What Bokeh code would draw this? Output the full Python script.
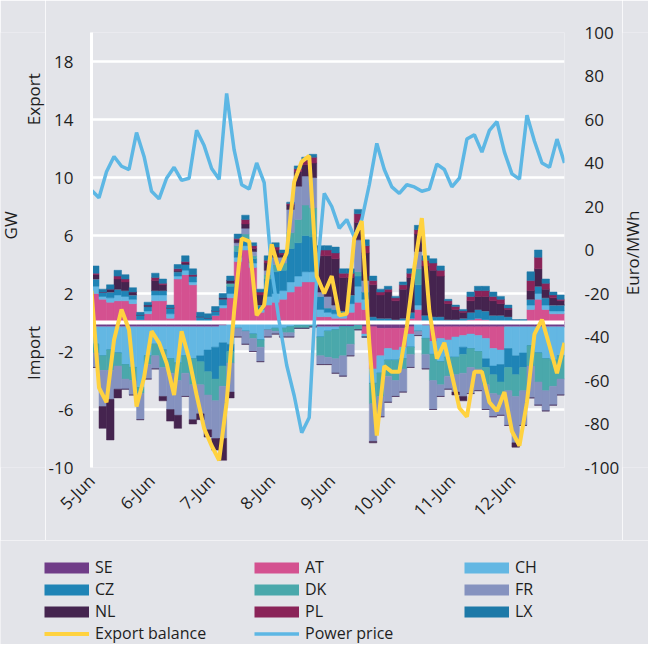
from math import pi
from bokeh.plotting import figure
from bokeh.layouts import column, row
from bokeh.models import (ColumnDataSource, Range1d, LinearAxis, FixedTicker,
                          Legend, LegendItem, Label)
from bokeh.embed import file_html
from bokeh.resources import INLINE

# ---------------- data ----------------
countries = ["SE", "AT", "CH", "CZ", "DK", "FR", "NL", "PL", "LX"]
colors = ["#703c88", "#d45190", "#63b7e3", "#1f84b6", "#4aa8ab",
          "#8592bf", "#45244f", "#8a2358", "#1d79a8"]

day_ticks = [0, 24, 48, 72, 96, 120, 144, 168]
day_labels = ["5-Jun", "6-Jun", "7-Jun", "8-Jun", "9-Jun", "10-Jun", "11-Jun", "12-Jun"]
left_ticks = [-10, -6, -2, 2, 6, 10, 14, 18]
right_ticks = [-100, -80, -60, -40, -20, 0, 20, 40, 60, 80, 100]

line_hours = list(range(0, 190, 3))              # 64 points, 3-hourly
bar_hours = [h + 1.5 for h in range(0, 189, 3)]  # 63 bars, 3 hours wide

# exports (GW, positive)
AT_exp = [2.0,1.6,1.4,1.5,1.5,1.3,0.2,0.6,1.5,1.5, 0.3,3.0,3.3,2.6,0,0,0.5,1.0,1.7,4.2,
          5.0,3.8,0.7,1.2,1.4,1.6,2.1,2.5,2.8,2.8, 0.4,0.4,0.3,0.3,0.7,1.4,0.9,0,0,0,
          0,0,0.3,0.9,0,0,0,0,0,0, 0.2,0.3,0.2,0,0,0,0,0,0.9,1.6, 0.9,0.6,0.6]
CH_exp = [0.5,0.2,0.3,0.4,0.3,0.3,0,0.2,0.4,0.4, 0.3,0.2,0.3,0.2,0,0,0,0.2,0.3,0.3,
          0.3,0.3,0.2,0.6,0.6,0.6,0.7,0.7,0.7,0.7, 0.5,0.3,0.3,0.2,0.6,1.1,0.7,0,0,0,
          0,0,0,0.3,0,0,0,0,0,0, 0,0,0,0,0,0,0,0,0.3,0.4, 0.3,0.2,0.2]
CZ_exp = [0.5,0.3,0.4,0.4,0.4,0.3,0.3,0.3,0.3,0.3, 0.4,0.3,0.4,0.4,0.4,0.3,0.3,0.4,0.5,0.4,
          0.4,0.3,0.3,1.2,1.5,1.4,2.3,2.3,2.5,2.4, 0.9,0.3,0.3,0.3,0.6,0.7,0.5,0.4,0.3,0.3,
          0.2,0.3,0.4,1.4,0.5,0.4,0.4,0.2,0.2,0.3, 0.5,0.6,0.6,0.5,0.5,0.4,0.1,0.1,0.4,0.5, 0.5,0.4,0.4]
DK_exp = [0,0,0,0,0,0,0,0,0,0, 0,0,0,0,0,0,0,0,0.2,0.4,
          0.4,0.2,0,0.3,0.5,0.5,1.1,1.6,2.1,2.0, 0,0,0,0,0,0.3,0,0,0,0,
          0,0,0,1.1,0,0,0,0,0,0, 0,0,0,0,0,0,0,0,0,0, 0,0,0]
FR_exp = [0,0,0,0,0,0,0,0,0,0, 0,0,0,0,0,0,0,0,0,0.2,
          0.4,0.3,0,0.3,0.5,0.4,1.6,2.3,2.0,2.1, 0.3,0.8,0.3,0,0,2.2,0.8,0,0,0,
          0,0,0,1.2,0,0,0,0,0,0, 0,0,0,0,0,0,0,0,0,0, 0,0,0]
NL_exp = [0.3,0,0.2,0.7,0.6,0.2,0,0.1,0.7,0.4, 0,0.1,0.1,0,0,0,0,0.1,0.2,0.2,
          0.3,0.2,0.7,0.5,0.5,0.2,0.3,1.0,0.8,1.0, 2.5,2.8,3.2,2.3,1.2,1.2,1.9,2.2,1.6,1.8,
          1.3,2.0,2.4,1.2,3.4,3.2,2.8,1.1,0.7,0.4, 0.8,0.9,1.0,1.0,0.8,0.5,0,0,0.6,1.2, 0.6,0.5,0.3]
PL_exp = [0.1,0,0,0.2,0.2,0,0,0,0.2,0.1, 0,0.1,0.1,0.1,0,0,0,0,0,0.1,
          0.3,0.2,0.2,0.2,0.2,0.1,0.1,0.2,0.3,0.4, 0.4,0.4,0.4,0.3,0.3,0.6,0.5,0.3,0.2,0.2,
          0.2,0.3,0.3,0.3,0.4,0.5,0.4,0.2,0.2,0.1, 0.3,0.4,0.4,0.3,0.3,0.1,0,0,0.7,0.8, 0.4,0.2,0.1]
LX_exp = [0.5,0.2,0.3,0.4,0.3,0.3,0.2,0.2,0.3,0.3, 0.2,0.3,0.4,0.4,0.3,0.3,0.3,0.3,0.3,0.3,
          0.3,0.2,0.2,0.3,0.3,0.2,0.1,0.2,0.2,0.2, 0.3,0.3,0.4,0.3,0.3,0.3,0.4,0.3,0.2,0.2,
          0.1,0.2,0.3,0.3,0.3,0.3,0.3,0.1,0.1,0.1, 0.3,0.3,0.3,0.3,0.2,0.2,0.1,0.1,0.6,0.5, 0.3,0.2,0.3]

# imports (GW, negative)
SE_imp = [-0.3,-0.3,-0.3,-0.3,-0.3,-0.3,-0.3,-0.3,-0.3,-0.3, -0.3,-0.3,-0.3,-0.3,-0.3,-0.3,-0.3,-0.2,0,0,
          0,0,0,0,0,0,0,0,0,0, -0.3,-0.3,-0.3,-0.3,-0.3,-0.2,-0.3,-0.3,-0.4,-0.4,
          -0.4,-0.4,-0.3,0,-0.2,-0.3,-0.3,-0.3,-0.3,-0.3, -0.3,-0.3,-0.3,-0.3,-0.3,-0.3,-0.3,-0.3,-0.3,-0.3, -0.3,-0.3,-0.3]
AT_imp = [0,0,0,0,0,0,0,0,0,0, 0,0,0,0,0,0,0,0,0,0,
          0,0,0,0,0,0,0,0,0,0, 0,0,0,0,0,0,-0.5,-2.9,-1.9,-1.4,
          -1.5,-1.3,-0.5,0,0,-1.0,-0.8,-0.9,-0.7,-0.6, -0.5,-0.6,-0.8,-1.5,-1.6,0,0,0,0,0, 0,0,0]
CH_imp = [-1.2,-2.0,-1.6,-1.8,-2.6,-2.8,-4.2,-2.0,-1.2,-1.6, -2.2,-2.5,-2.0,-2.2,-2.0,-1.6,-1.4,-1.2,-1.5,-0.4,
          -0.6,-0.8,-1.2,-0.5,-0.4,-0.4,-0.3,-0.2,-0.2,-0.2, -0.7,-0.3,-0.2,0,0,0,-0.2,-1.0,-1.2,-0.8,
          -0.7,-0.8,-0.9,-0.6,-0.9,-0.9,-1.6,-1.2,-1.4,-0.8, -1.0,-1.1,-1.4,-1.2,-1.0,-1.5,-2.0,-1.8,-1.3,-1.8, -2.2,-2.3,-2.0]
CZ_imp = [0,0,0,0,0,0,0,0,0,0, 0,0,0,0,-0.4,-1.5,-2.2,-1.6,-0.5,0,
          0,0,0,0,0,0,0,0,0,0, 0,0,0,0,0,0,0,0,0,0,
          0,0,0,0,0,0,0,0,0,-0.5, 0,0,-0.6,-0.6,-1.2,-1.3,-1.3,-1.0,0,0, 0,0,0]
DK_imp = [-0.6,-1.0,-1.4,-0.9,-1.0,-0.9,-0.4,-0.6,-0.8,-1.2, -1.0,-1.2,-1.2,-1.8,-1.6,-1.6,-1.5,-1.4,-0.8,0,
          0,-0.3,-0.5,0,-0.2,-0.3,-0.4,-0.2,-0.2,-0.1, -1.3,-1.8,-2.0,-2.0,-1.2,-0.3,0,-1.4,-1.6,-1.1,
          -1.4,-0.7,-0.5,0,-1.1,-1.8,-1.6,-1.3,-1.2,-1.3, -1.3,-1.2,-1.2,-1.3,-0.9,-1.6,-1.5,-1.6,-1.4,-2.0, -2.2,-1.8,-1.6]
FR_imp = [-1.0,-2.5,-2.0,-1.6,-0.7,-1.0,-1.8,-1.0,-0.9,-2.0, -2.5,-2.4,-1.6,-2.4,-2.0,-2.4,-2.6,-3.6,-2.0,-0.6,
          -0.9,-0.9,-1.0,-0.5,-0.2,-0.3,-0.3,0,0,0, -0.6,-0.5,-1.0,-1.4,-0.8,0,0,-2.6,-1.4,-1.8,
          -1.1,-1.6,-0.9,-0.3,-1.0,-2.0,-0.8,-0.9,-1.2,-1.6, -1.8,-1.5,-1.7,-1.6,-1.4,-2.4,-3.2,-2.4,-2.2,-1.6, -1.4,-1.3,-1.1]
NL_imp = [0,-1.5,-2.8,-0.6,0,0,0,0,0,-0.3, -0.8,-0.9,0,-0.3,-0.4,-0.5,-0.8,-1.5,-0.4,0,
          0,0,0,0,0,0,0,0,0,0, 0,0,0,0,0,0,0,-0.1,0,0,
          0,0,0,0,0,0,0,0,-0.2,-0.3, 0,0,0,0,0,0,-0.3,0,0,0, 0,0,0]

export_balance = [2.2,-4.5,-5.5,-1.2,0.9,-0.5,-5.8,-3.8,-0.6,-1.4, -2.8,-5.0,-0.6,-2.5,-5.0,-7.3,-8.5,-9.5,-5.5,0.8,
                  5.8,5.6,0.5,1.2,5.4,3.6,4.8,9.7,11.1,11.5, 3.2,2.0,3.2,0.5,0.6,5.8,7.0,-1.4,-7.8,-3.0,
                  -3.4,-3.4,-0.3,3.8,7.2,0.8,-2.5,-1.4,-3.6,-5.9, -6.5,-3.4,-3.4,-5.5,-6.1,-4.8,-7.5,-8.5,-5.5,-0.8,
                  0.2,-1.6,-3.5,-1.4]
power_price = [27.5,24,36,43,38.5,37,54,43,27,23.5, 33,38,32,33,55,48,37.5,32.5,72,46,
               30,28,40,31,-9,-33,-53,-67,-84,-77, -12,26,20,10,14,6,14,30,49,37,
               29,26,30,29,27,28,39.5,37,29,33, 51,53,45,55,59,45,35,32.6,62,50,
               40,38,51,40]

exports = {"AT": AT_exp, "CH": CH_exp, "CZ": CZ_exp, "DK": DK_exp, "FR": FR_exp,
           "NL": NL_exp, "PL": PL_exp, "LX": LX_exp}
imports = {"SE": SE_imp, "AT": AT_imp, "CH": CH_imp, "CZ": CZ_imp, "DK": DK_imp,
           "FR": FR_imp, "NL": NL_imp}

for k, v in list(exports.items()) + list(imports.items()):
    assert len(v) == len(bar_hours), (k, len(v))
assert len(export_balance) == len(line_hours) == len(power_price)

# ---------------- style ----------------
BG = "#e3e4e9"
TXT = "#1e1e1e"
FONT = "Open Sans"
YELLOW = "#ffd23f"
PRICE = "#5db7e4"
cmap = dict(zip(countries, colors))

H_MAIN = 540
TOP, BOTTOM = 32, 73
CAP_L, CAP_R = 45, 26
MAIN_W = 648 - CAP_L - CAP_R


def plain_axis(ax, size="17px"):
    ax.axis_line_color = None
    ax.major_tick_line_color = None
    ax.minor_tick_line_color = None
    ax.major_tick_out = 0
    ax.major_tick_in = 0
    ax.minor_tick_out = 0
    ax.minor_tick_in = 0
    ax.major_label_text_font = FONT
    ax.major_label_text_font_size = size
    ax.major_label_text_color = TXT


def blank_fig(w, h, **kw):
    f = figure(width=w, height=h, output_backend="svg", toolbar_location=None,
               x_axis_location=None, y_axis_location=None,
               background_fill_color=BG, border_fill_color=BG, outline_line_color=None,
               **kw)
    f.xgrid.visible = False
    f.ygrid.visible = False
    f.frame_align = False
    return f


# ---------------- main chart ----------------
p = figure(width=MAIN_W, height=H_MAIN, x_range=Range1d(0, 189), y_range=Range1d(-10, 20),
           output_backend="svg", toolbar_location=None,
           min_border_left=43, min_border_right=58, min_border_top=TOP, min_border_bottom=BOTTOM,
           background_fill_color=BG, border_fill_color=BG, outline_line_color=None)
p.frame_align = False
p.extra_y_ranges = {"price": Range1d(-100, 100)}

p.xgrid.visible = False
p.ygrid.ticker = FixedTicker(ticks=left_ticks)
p.ygrid.grid_line_color = "white"
p.ygrid.grid_line_width = 2.5

ya = p.yaxis[0]
plain_axis(ya)
ya.ticker = FixedTicker(ticks=left_ticks)
ya.major_label_overrides = {t: str(t) for t in left_ticks}
ya.axis_line_color = "white"
ya.axis_line_width = 3
ya.major_label_standoff = 18

ra = LinearAxis(y_range_name="price", ticker=FixedTicker(ticks=right_ticks))
plain_axis(ra)
ra.major_label_overrides = {t: str(t) for t in right_ticks}
ra.major_label_standoff = 20
p.add_layout(ra, "right")

xa = p.xaxis[0]
plain_axis(xa)
xa.ticker = FixedTicker(ticks=day_ticks)
xa.major_label_overrides = {t: l for t, l in zip(day_ticks, day_labels)}
xa.major_label_orientation = pi / 4
xa.major_label_standoff = 10

data = {"x": bar_hours}
for c, v in exports.items():
    data[c + "_exp"] = v
for c, v in imports.items():
    data[c + "_imp"] = v
src = ColumnDataSource(data)

exp_keys = [c + "_exp" for c in exports]
exp_cols = [cmap[c] for c in exports]
p.vbar_stack(exp_keys, x="x", width=3, source=src, fill_color=exp_cols,
             line_color=exp_cols, line_width=0.5)
imp_keys = [c + "_imp" for c in imports]
imp_cols = [cmap[c] for c in imports]
p.vbar_stack(imp_keys, x="x", width=3, source=src, fill_color=imp_cols,
             line_color=imp_cols, line_width=0.5)

p.hspan(y=[0], line_color="white", line_width=4)

p.line(line_hours, power_price, y_range_name="price", line_color=PRICE, line_width=3.5)
p.line(line_hours, export_balance, line_color=YELLOW, line_width=4)

# ---------------- side captions (share the GW scale) ----------------
capL = blank_fig(CAP_L, H_MAIN, x_range=Range1d(0, CAP_L), y_range=p.y_range,
                 min_border_left=0, min_border_right=0, min_border_top=TOP, min_border_bottom=BOTTOM)
for txt, x, y in [("GW", 10, 6.7), ("Export", 33, 15.4), ("Import", 33, -2.1)]:
    capL.add_layout(Label(x=x, y=y, text=txt, angle=pi / 2, text_align="center",
                          text_baseline="middle", text_font=FONT, text_font_size="17px",
                          text_color=TXT))

capR = blank_fig(CAP_R, H_MAIN, x_range=Range1d(0, CAP_R), y_range=p.y_range,
                 min_border_left=0, min_border_right=0, min_border_top=TOP, min_border_bottom=BOTTOM)
capR.add_layout(Label(x=10, y=4.8, text="Euro/MWh", angle=pi / 2, text_align="center",
                      text_baseline="middle", text_font=FONT, text_font_size="17px",
                      text_color=TXT))

# ---------------- legend strip ----------------
lf = blank_fig(648, 104, x_range=Range1d(0, 1), y_range=Range1d(0, 1), min_border=0)
nan = float("nan")
items = []
for c, col in zip(countries, colors):
    r = lf.line(x=[nan], y=[nan], line_color=col, line_width=11)
    items.append(LegendItem(label=c, renderers=[r]))
rb = lf.line(x=[nan], y=[nan], line_color=YELLOW, line_width=4)
items.append(LegendItem(label="Export balance", renderers=[rb]))
rp = lf.line(x=[nan], y=[nan], line_color=PRICE, line_width=3.5)
items.append(LegendItem(label="Power price", renderers=[rp]))

legend = Legend(items=items, location=(44, 0), orientation="horizontal", ncols=3,
                glyph_width=45, glyph_height=21, label_height=21, label_width=159,
                label_standoff=6, spacing=0, padding=0, margin=0,
                background_fill_alpha=0, border_line_color=None,
                label_text_font=FONT, label_text_font_size="16px", label_text_color=TXT)
lf.add_layout(legend, "center")

layout = column(row(capL, p, capR, spacing=0), lf, spacing=0)
open("out.html", "w").write(file_html(layout, INLINE))
